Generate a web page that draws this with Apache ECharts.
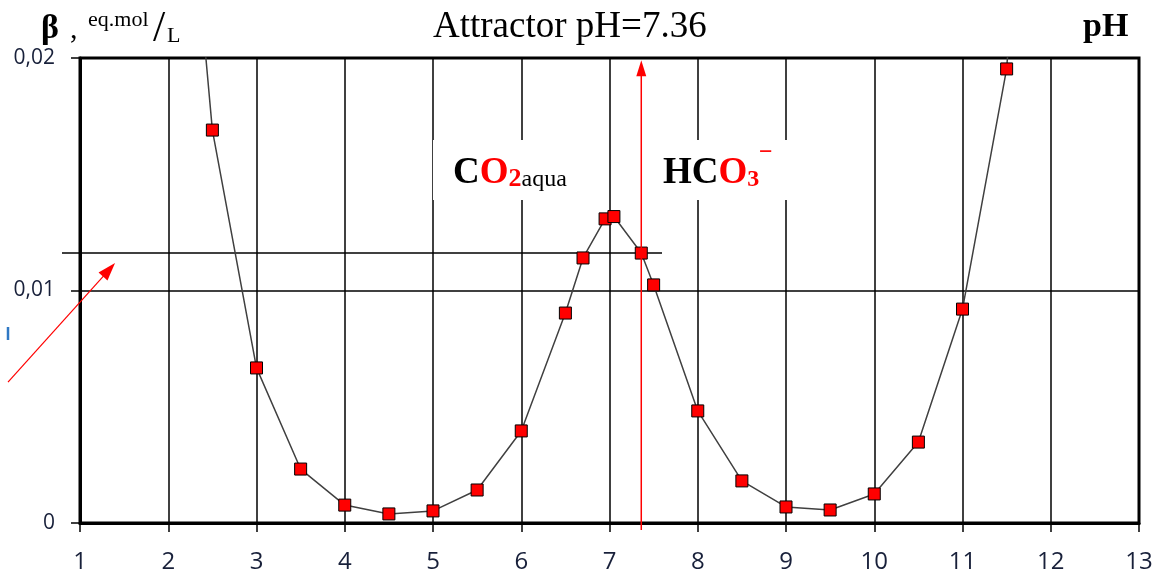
<!DOCTYPE html>
<html><head><meta charset="utf-8">
<script src="https://cdn.jsdelivr.net/npm/echarts@6/dist/echarts.min.js"></script>
<style>html,body{margin:0;padding:0;background:#fff}#c{width:1166px;height:576px}</style>
</head><body><div id="c"></div>
<script>
// ---- data ----
const pHValues = [2.0, 2.5, 3.0, 3.5, 4.0, 4.5, 5.0, 5.5, 6.0, 6.5, 6.7, 6.95, 7.05, 7.36, 7.5, 8.0, 8.5, 9.0, 9.5, 10.0, 10.5, 11.0, 11.5, 12.0];
const betaValues = [0.038, 0.0169, 0.00667, 0.00232, 0.00077, 0.00039, 0.00052, 0.00142, 0.00396, 0.00903, 0.0114, 0.01308, 0.01318, 0.01161, 0.01024, 0.00482, 0.00181, 0.00069, 0.00056, 0.00125, 0.00348, 0.0092, 0.01953, 0.045];
const offChart = [true, false, false, false, false, false, false, false, false, false, false, false, false, false, false, false, false, false, false, false, false, false, false, true];
const xTickLabels = ['1','2','3','4','5','6','7','8','9','10','11','12','13'];
const yTickLabels = {'0': '0', '0.01': '0,01', '0.02': '0,02'};
const attractorPH = 7.36;
const attractorBeta = 0.01161;
const titleText = 'Attractor pH=7.36';

const chart = echarts.init(document.getElementById('c'));
const seriesData = pHValues.map((x, i) => offChart[i]
  ? { value: [x, betaValues[i]], symbol: 'none' }
  : { value: [x, betaValues[i]] });

const labelFont = "'Open Sans', 'Liberation Sans', sans-serif";
const serif = "'Liberation Serif', 'Times New Roman', serif";

chart.setOption({
  animation: false,
  backgroundColor: '#fff',
  grid: { left: 80, right: 27, top: 58, bottom: 53, show: true, borderColor: '#000', borderWidth: 3, containLabel: false },
  xAxis: {
    type: 'value', min: 1, max: 13, interval: 1,
    axisLine: { show: true, lineStyle: { color: '#000', width: 3 } },
    axisTick: { show: true, length: 9, lineStyle: { color: '#000', width: 1.5 } },
    axisLabel: { margin: 27, fontSize: 24, fontFamily: labelFont, color: '#18203a',
      formatter: v => xTickLabels[Math.round(v) - 1] || '' },
    splitLine: { show: true, lineStyle: { color: '#000', width: 1.5 } }
  },
  yAxis: {
    type: 'value', min: 0, max: 0.02, interval: 0.01,
    axisLine: { show: true, lineStyle: { color: '#000', width: 3 } },
    axisTick: { show: true, length: 9, lineStyle: { color: '#000', width: 1.5 } },
    axisLabel: { margin: 25, fontSize: 21, fontFamily: labelFont, color: '#18203a',
      formatter: v => yTickLabels[String(+v.toFixed(2))] ?? String(v) },
    splitLine: { show: true, lineStyle: { color: '#000', width: 1.5 } }
  },
  series: [{
    type: 'line', data: seriesData, clip: true, z: 3,
    lineStyle: { color: '#404040', width: 1.5 },
    symbol: 'rect', symbolSize: 12,
    itemStyle: { color: '#ff0000', borderColor: '#000', borderWidth: 1 }
  }]
});

function px(x, y) { return chart.convertToPixel({ gridIndex: 0 }, [x, y]); }

// annotation geometry
const hStart = px(0.796, attractorBeta), hEnd = px(7.595, attractorBeta);
const vBottom = px(attractorPH, -0.0003), vTop = px(attractorPH, 0.0199);
const dStart = px(0.184, 0.00606), dEnd = px(1.397, 0.01118);
const box1a = px(5.0, 0.01647), box1b = px(6.9, 0.01389);
const box2a = px(7.42, 0.01647), box2b = px(9.25, 0.01389);

function arrowHead(tip, from, len, half) {
  const dx = tip[0] - from[0], dy = tip[1] - from[1];
  const L = Math.hypot(dx, dy); const ux = dx / L, uy = dy / L;
  const bx = tip[0] - ux * len, by = tip[1] - uy * len;
  return [[tip[0], tip[1]], [bx - uy * half, by + ux * half], [bx + uy * half, by - ux * half]];
}

const g = [];
g.push({ type: 'line', z: 1, shape: { x1: hStart[0], y1: hStart[1], x2: hEnd[0], y2: hEnd[1] }, style: { stroke: '#000', lineWidth: 1.5 } });
g.push({ type: 'rect', z: 10, shape: { x: box1a[0], y: box1a[1], width: box1b[0] - box1a[0], height: box1b[1] - box1a[1] }, style: { fill: '#fff' } });
g.push({ type: 'rect', z: 10, shape: { x: box2a[0], y: box2a[1], width: box2b[0] - box2a[0], height: box2b[1] - box2a[1] }, style: { fill: '#fff' } });
// vertical red arrow at attractor pH
g.push({ type: 'line', z: 20, shape: { x1: vBottom[0], y1: vBottom[1], x2: vTop[0], y2: vTop[1] + 10 }, style: { stroke: '#ff0000', lineWidth: 1.5 } });
g.push({ type: 'polygon', z: 20, shape: { points: arrowHead(vTop, vBottom, 16, 5) }, style: { fill: '#ff0000' } });
// diagonal red arrow
g.push({ type: 'line', z: 20, shape: { x1: dStart[0], y1: dStart[1], x2: dEnd[0] - 8, y2: dEnd[1] + 9 }, style: { stroke: '#ff0000', lineWidth: 1.2 } });
g.push({ type: 'polygon', z: 20, shape: { points: arrowHead(dEnd, dStart, 18, 6) }, style: { fill: '#ff0000' } });
// small blue mark at left edge
g.push({ type: 'line', z: 20, shape: { x1: 8, y1: 327, x2: 8, y2: 340 }, style: { stroke: '#2f78c4', lineWidth: 2.5 } });

// title & axis names
g.push({ type: 'text', z: 20, style: { text: titleText, x: 433, y: 27, verticalAlign: 'middle', align: 'left', font: '37px ' + serif, fill: '#000' } });
g.push({ type: 'text', z: 20, style: { text: 'β', x: 41, y: 29, verticalAlign: 'middle', align: 'left', font: 'bold 34px ' + serif, fill: '#000' } });
g.push({ type: 'text', z: 20, style: { text: ',', x: 70, y: 30, verticalAlign: 'middle', align: 'left', font: '30px ' + serif, fill: '#000' } });
g.push({ type: 'text', z: 20, style: { text: 'eq.mol', x: 88, y: 20.5, verticalAlign: 'middle', align: 'left', font: '22px ' + serif, fill: '#000' } });
g.push({ type: 'text', z: 20, style: { text: '/', x: 153, y: 29, verticalAlign: 'middle', align: 'left', font: '44px ' + serif, fill: '#000' } });
g.push({ type: 'text', z: 20, style: { text: 'L', x: 167, y: 36, verticalAlign: 'middle', align: 'left', font: '22px ' + serif, fill: '#000' } });
g.push({ type: 'text', z: 20, style: { text: 'pH', x: 1083, y: 27, verticalAlign: 'middle', align: 'left', font: 'bold 34px ' + serif, fill: '#000' } });

// species labels
g.push({ type: 'text', z: 20, style: {
  text: '{k|C}{r|O}{s|2}{n|aqua}', x: 453, y: 192, align: 'left', verticalAlign: 'bottom',
  rich: {
    k: { font: 'bold 37px ' + serif, fill: '#000', color: '#000', lineHeight: 37, verticalAlign: 'bottom' },
    r: { font: 'bold 37px ' + serif, fill: '#ff0000', color: '#ff0000', lineHeight: 37, verticalAlign: 'bottom' },
    s: { font: 'bold 26px ' + serif, fill: '#ff0000', color: '#ff0000', lineHeight: 30, verticalAlign: 'bottom' },
    n: { font: '24px ' + serif, fill: '#000', color: '#000', lineHeight: 29, verticalAlign: 'bottom' }
  } } });
g.push({ type: 'text', z: 20, style: {
  text: '{k|HC}{r|O}{s|3}', x: 663, y: 192, align: 'left', verticalAlign: 'bottom',
  rich: {
    k: { font: 'bold 37px ' + serif, fill: '#000', color: '#000', lineHeight: 37, verticalAlign: 'bottom' },
    r: { font: 'bold 37px ' + serif, fill: '#ff0000', color: '#ff0000', lineHeight: 37, verticalAlign: 'bottom' },
    s: { font: 'bold 24px ' + serif, fill: '#ff0000', color: '#ff0000', lineHeight: 24, verticalAlign: 'bottom' }
  } } });
g.push({ type: 'text', z: 20, style: { text: '−', x: 759, y: 153, verticalAlign: 'middle', align: 'left', font: 'bold 24px ' + serif, fill: '#ff0000' } });

chart.setOption({ graphic: g });
</script>
</body></html>
